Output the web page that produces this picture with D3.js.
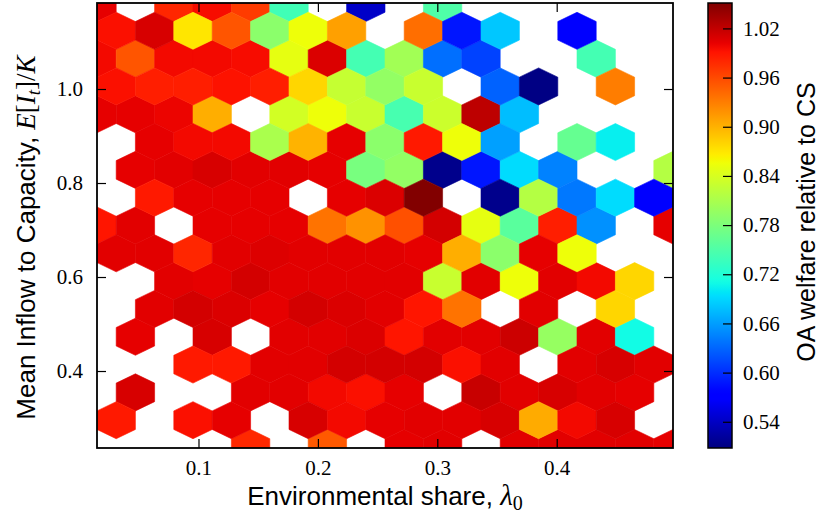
<!DOCTYPE html>
<html>
<head>
<meta charset="utf-8">
<script src="https://cdn.jsdelivr.net/npm/d3@7"></script>
<style>
body { margin: 0; background: #fff; }
svg { display: block; }
.tick text { font-family: "Liberation Serif", "DejaVu Serif", serif; font-size: 21px; fill: #000; }
.title { font-family: "Liberation Sans", Arial, sans-serif; font-size: 25px; fill: #000; }
.math { font-family: "Liberation Serif", "DejaVu Serif", serif; font-style: italic; }
.up { font-family: "Liberation Serif", "DejaVu Serif", serif; font-style: normal; }
</style>
</head>
<body>
<svg id="chart" width="819" height="517"></svg>
<script>
// extent of the hexbin grid, gridsize 15 (15 x 8 cells)
const xExtent = [0.0150, 0.4974];
const yExtent = [0.2362, 1.1830];
const gridX = 15, gridY = 8;

// outer lattice, centres at (xmin + i*sx, ymin + j*sy), listed top row first
const outerRows = [
    [1.003, null, 0.980, 0.995, 0.968, 0.740, null, 0.542, null, 0.750, null, null, null, null, null, null],
    [0.997, 0.953, 0.997, 0.997, 0.995, 0.850, 1.008, 0.743, 0.805, 0.635, 0.611, null, null, 0.743, null, null],
    [1.003, 1.003, 1.000, 0.902, null, 0.837, 0.855, 0.830, 0.745, 0.832, 1.022, 0.677, null, null, null, null],
    [null, 1.003, 1.005, 1.010, 1.005, 1.005, 1.003, 0.777, 0.795, 0.514, 0.587, 0.693, 0.645, null, null, 0.817],
    [0.990, 1.005, null, 1.003, 1.003, 1.003, 0.936, 0.918, 0.956, 1.012, 0.850, 0.757, 0.985, 0.653, null, 1.003],
    [null, null, 1.005, 1.003, 1.012, 1.005, 1.005, 1.005, 1.005, 0.830, 1.005, 0.855, 1.005, 0.997, 0.879, null],
    [null, 1.003, null, 1.010, null, 1.005, 1.005, 1.008, 0.990, 1.005, 1.005, 1.015, 0.797, 1.005, 0.710, null],
    [null, 1.010, null, null, 1.005, 1.005, 0.997, 0.993, 1.003, null, 1.017, 1.005, 1.010, 1.005, 1.003, null],
    [null, null, null, null, 0.979, null, 0.951, null, 1.003, 1.005, null, 1.005, 1.005, 1.005, 1.005, 1.003]
];

// inner lattice, centres at (xmin + (i+.5)*sx, ymin + (j+.5)*sy), listed top row first
const innerRows = [
    [0.993, 1.010, 0.870, 0.953, 0.790, 0.855, 0.910, null, 0.939, 0.587, 0.682, null, 0.570, null, null],
    [0.993, 0.985, 0.985, 0.992, 0.985, 0.879, 0.828, 0.795, 0.830, null, 0.628, 0.510, null, 0.930, null],
    [null, 1.003, 0.997, 0.997, 0.810, 0.899, 1.003, 0.790, 0.988, 0.855, 0.661, null, 0.765, 0.703, null],
    [null, 0.988, 1.003, 1.003, 1.003, null, 1.003, 1.008, 1.050, null, 0.514, 0.817, 0.640, 0.693, 0.570],
    [1.005, 1.005, 0.980, 1.005, 1.007, 1.005, 1.005, 1.005, 1.003, 0.902, 0.790, 1.003, 0.855, null, null],
    [null, 1.005, 1.012, 1.008, 1.003, 1.012, 1.008, 1.005, 0.990, 0.936, null, 1.005, null, 0.879, null],
    [null, null, 0.988, 0.988, 1.005, 1.005, 1.012, 1.012, 1.012, 0.993, 1.005, null, 1.005, 1.010, 1.005],
    [0.988, null, 0.993, 1.003, null, 1.010, 0.997, 1.003, 1.005, 1.005, 1.010, 0.904, 0.997, 1.010, null]
];

const xTicks = [0.1, 0.2, 0.3, 0.4];
const yTicks = [0.4, 0.6, 0.8, 1.0];
const cbarTicks = [0.54, 0.60, 0.66, 0.72, 0.78, 0.84, 0.90, 0.96, 1.02];
const cbarRange = [0.508, 1.051];

var margin = {top: 3, left: 97};
var width = 576, height = 445;

var svg = d3.select("#chart");

var x = d3.scaleLinear().domain(xExtent).range([0, width]);
var y = d3.scaleLinear().domain(yExtent).range([height, 0]);

// jet colormap
var jetR = d3.scaleLinear().domain([0, 0.35, 0.66, 0.89, 1]).range([0, 0, 1, 1, 0.5]).clamp(true);
var jetG = d3.scaleLinear().domain([0, 0.125, 0.375, 0.64, 0.91, 1]).range([0, 0, 1, 1, 0, 0]).clamp(true);
var jetB = d3.scaleLinear().domain([0, 0.11, 0.34, 0.65, 1]).range([0.5, 1, 1, 0, 0]).clamp(true);
function jet(t) {
    return d3.rgb(jetR(t) * 255, jetG(t) * 255, jetB(t) * 255).formatHex();
}
var norm = d3.scaleLinear().domain(cbarRange).range([0, 1]).clamp(true);
var color = v => jet(norm(v));

var g = svg.append("g").attr("transform", "translate(" + margin.left + "," + margin.top + ")");

svg.append("defs").append("clipPath").attr("id", "plot-clip")
    .append("rect").attr("width", width).attr("height", height);

// hex cells
var sx = (xExtent[1] - xExtent[0]) / gridX;
var sy = (yExtent[1] - yExtent[0]) / gridY;
var hexOffsets = [[0.5, -1 / 6], [0.5, 1 / 6], [0, 1 / 3], [-0.5, 1 / 6], [-0.5, -1 / 6], [0, -1 / 3]];

var cells = [];
outerRows.forEach((row, k) => {
    row.forEach((v, i) => {
        if (v != null) cells.push({ cx: xExtent[0] + i * sx, cy: yExtent[0] + (gridY - k) * sy, v: v });
    });
});
innerRows.forEach((row, k) => {
    row.forEach((v, i) => {
        if (v != null) cells.push({ cx: xExtent[0] + (i + 0.5) * sx, cy: yExtent[0] + (gridY - 1 - k + 0.5) * sy, v: v });
    });
});

var hexLine = d3.line().x(d => x(d[0])).y(d => y(d[1]));

g.append("g").attr("clip-path", "url(#plot-clip)")
    .selectAll("path")
    .data(cells)
    .enter()
    .append("path")
        .attr("d", d => hexLine(hexOffsets.map(o => [d.cx + o[0] * sx, d.cy + o[1] * sy])) + "Z")
        .attr("fill", d => color(d.v))
        .attr("stroke", d => color(d.v))
        .attr("stroke-width", 0.6);

// axes, ticks pointing inward on all four sides
g.append("g").attr("transform", "translate(0," + height + ")")
    .call(d3.axisBottom(x).tickValues(xTicks).tickSizeInner(-9).tickSizeOuter(0).tickPadding(12).tickFormat(d3.format(".1f")));
g.append("g")
    .call(d3.axisTop(x).tickValues(xTicks).tickSizeInner(-9).tickSizeOuter(0).tickFormat(""));
g.append("g")
    .call(d3.axisLeft(y).tickValues(yTicks).tickSizeInner(-9).tickSizeOuter(0).tickPadding(14).tickFormat(d3.format(".1f")));
g.append("g").attr("transform", "translate(" + width + ",0)")
    .call(d3.axisRight(y).tickValues(yTicks).tickSizeInner(-9).tickSizeOuter(0).tickFormat(""));

g.selectAll(".domain").remove();
g.selectAll(".tick line").attr("stroke", "#000").attr("stroke-width", 1.2);

g.append("rect").attr("width", width).attr("height", height)
    .attr("fill", "none").attr("stroke", "#000").attr("stroke-width", 1.8);

// axis titles
var xTitle = svg.append("text").attr("class", "title")
    .style("font-size", "26px")
    .attr("x", margin.left + width / 2).attr("y", 505).attr("text-anchor", "middle");
xTitle.append("tspan").text("Environmental share, ");
xTitle.append("tspan").attr("class", "math").attr("font-size", 29).text("λ");
xTitle.append("tspan").attr("class", "up").attr("font-size", 20).attr("dy", 5).text("0");

var yTitle = svg.append("text").attr("class", "title")
    .style("font-size", "26px")
    .attr("transform", "translate(35," + (margin.top + height / 2 + 12) + ") rotate(-90)")
    .attr("text-anchor", "middle");
yTitle.append("tspan").text("Mean Inflow to Capacity, ");
yTitle.append("tspan").attr("class", "math").attr("font-size", 27).text("E");
yTitle.append("tspan").attr("class", "up").attr("font-size", 27).text("[");
yTitle.append("tspan").attr("class", "math").attr("font-size", 27).text("I");
yTitle.append("tspan").attr("class", "math").attr("font-size", 19).attr("dy", 5).text("t");
yTitle.append("tspan").attr("class", "up").attr("font-size", 27).attr("dy", -5).text("]/");
yTitle.append("tspan").attr("class", "math").attr("font-size", 27).text("K");

// colorbar
var cbX = 708, cbW = 24;
var cy = d3.scaleLinear().domain(cbarRange).range([height, 0]);

var grad = svg.select("defs").append("linearGradient").attr("id", "jet-grad")
    .attr("x1", 0).attr("y1", 1).attr("x2", 0).attr("y2", 0);
grad.selectAll("stop")
    .data(d3.range(0, 1.0001, 0.01))
    .enter()
    .append("stop")
        .attr("offset", d => d)
        .attr("stop-color", d => jet(d));

var cb = svg.append("g").attr("transform", "translate(" + cbX + "," + margin.top + ")");
cb.append("rect").attr("width", cbW).attr("height", height).attr("fill", "url(#jet-grad)");

var cbAxis = cb.append("g").attr("transform", "translate(" + cbW + ",0)")
    .call(d3.axisRight(cy).tickValues(cbarTicks).tickSizeInner(-9).tickSizeOuter(0).tickPadding(11).tickFormat(d3.format(".2f")));
cbAxis.select(".domain").remove();
cbAxis.selectAll(".tick line").attr("stroke", "#000").attr("stroke-width", 1.2);

cb.append("rect").attr("width", cbW).attr("height", height)
    .attr("fill", "none").attr("stroke", "#000").attr("stroke-width", 1.5);

svg.append("text").attr("class", "title")
    .attr("transform", "translate(815,222) rotate(-90)")
    .attr("text-anchor", "middle")
    .text("OA welfare relative to CS");
</script>
</body>
</html>
